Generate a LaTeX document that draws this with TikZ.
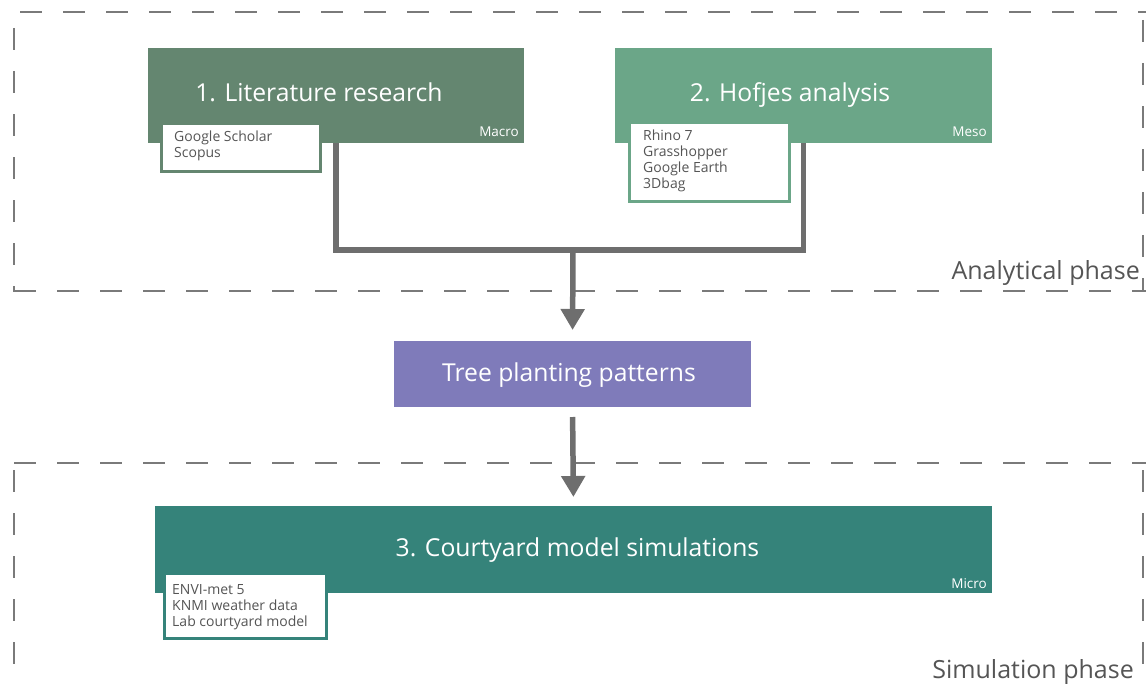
\documentclass[tikz,border=0pt]{standalone}
\usepackage{fontspec}
\setmainfont[Ligatures=NoCommon]{Open Sans}
\usetikzlibrary{arrows.meta}
\definecolor{cA}{HTML}{648670}
\definecolor{cB}{HTML}{6BA688}
\definecolor{cT}{HTML}{7F7BBA}
\definecolor{cC}{HTML}{35837A}
\definecolor{conn}{HTML}{6E6E6E}
\definecolor{dashc}{HTML}{7A7A7A}
\definecolor{txtc}{HTML}{555555}
\tikzset{
  mainbox/.style={inner sep=0pt, text=white, font=\fontsize{24.7}{28}\selectfont},
  tagtext/.style={text=white, font=\fontsize{13.5}{15}\selectfont, anchor=base east, inner sep=0pt},
  subbox/.style={fill=white, line width=3pt, anchor=north west, inner sep=0pt},
  subtext/.style={anchor=north west, text=txtc, font=\fontsize{14}{16}\selectfont, align=left, inner sep=0pt},
  conn/.style={draw=conn, line width=5.5pt},
  arr/.style={conn, -{Triangle[width=23pt,length=21pt]}},
  phase/.style={dashc, line width=1.4pt, dash pattern=on 22pt off 21pt},
  phaselabel/.style={text=txtc, font=\fontsize{25}{28}\selectfont, inner sep=0pt}
}
\begin{document}
\begin{tikzpicture}[x=1pt,y=-1pt]
\useasboundingbox (0,0) rectangle (1146,685);
% phase frames
\draw[phase] (20,12) -- (1146,12);
\draw[phase] (14,28) -- (14,292);
\draw[phase] (14,291) -- (1146,291);
\draw[phase] (1143,20) -- (1143,291);
\draw[phase] (14,463) -- (1146,463);
\draw[phase] (14,470) -- (14,685);
\draw[phase] (1143,470) -- (1143,685);
\node[phaselabel, anchor=base east] (lab1) at (1140,279) {Analytical phase};
\node[phaselabel, anchor=base east] (lab2) at (1134,678) {Simulation phase};
% boxes
\path[fill=cA] (148,48) rectangle (524,143);
\node[mainbox] (box1) at (336,95.5) {\phantom{x}};
\node[mainbox, anchor=base] (t1) at (319,102) {1. Literature research};
\node[tagtext] (m1) at (519,136) {Macro};
\path[fill=cB] (615,48) rectangle (992,143);
\node[mainbox] (box2) at (803.5,95.5) {\phantom{x}};
\node[mainbox, anchor=base] (t2) at (790,102) {2. Hofjes analysis};
\node[tagtext] (m2) at (987,136) {Meso};
\path[fill=cT] (394,341) rectangle (751,407);
\node[mainbox] (tree) at (572.5,374) {\phantom{x}};
\node[mainbox, anchor=base] (tt) at (569,381) {Tree planting patterns};
\path[fill=cC] (155,506) rectangle (992,593);
\node[mainbox] (box3) at (573.5,549.5) {\phantom{x}};
\node[mainbox, anchor=base] (t3) at (577.5,556) {3. Courtyard model simulations};
\node[tagtext] (m3) at (987,588) {Micro};
% sub boxes
\draw[subbox, draw=cA] (161.5,123.5) rectangle (320.5,171.5);
\node[subtext] (s1) at (174,131) {Google Scholar\\Scopus};
\draw[subbox, draw=cB] (629.5,122.5) rectangle (789.5,201.5);
\node[subtext] (s2) at (643,130) {Rhino 7\\Grasshopper\\Google Earth\\3Dbag};
\draw[subbox, draw=cC] (164.5,573.5) rectangle (326.5,638.5);
\node[subtext] (s3) at (172,584) {ENVI-met 5\\KNMI weather data\\Lab courtyard model};
% connectors
\coordinate (j) at (573,250);
\coordinate (b1) at (336,143);
\coordinate (b2) at (803.5,143);
\coordinate (tt1) at (572.5,341);
\coordinate (tb) at (572.5,407);
\coordinate (b3t) at (573.5,506);
\draw[conn] (b1) |- (j) -| (b2);
\draw[arr, shorten >=11pt] (j) -- (tt1);
\draw[arr, shorten <=10pt, shorten >=9pt] (tb) -- (b3t);
\end{tikzpicture}
\end{document}
